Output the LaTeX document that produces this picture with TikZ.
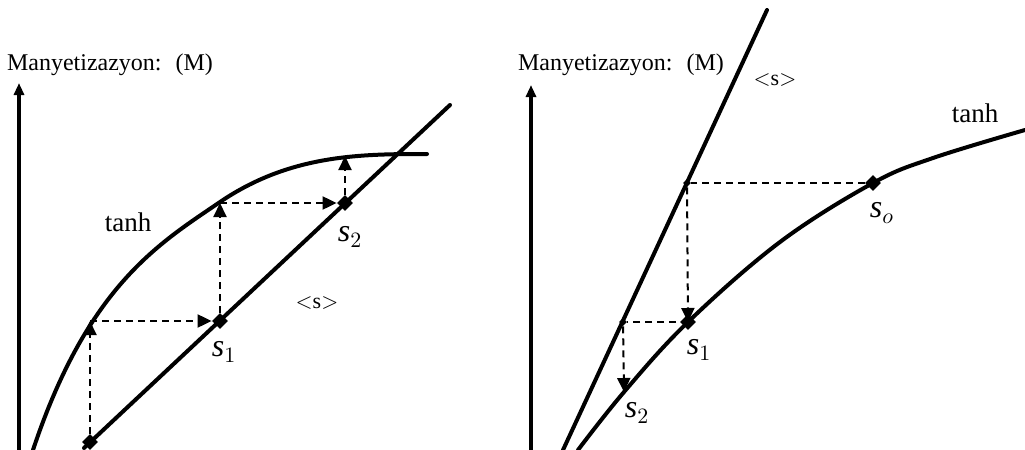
\documentclass[tikz,border=0pt]{standalone}
\usepackage{fontspec}
\setmainfont{Liberation Serif}
\usetikzlibrary{arrows.meta,shapes.geometric}

\begin{document}
\begin{tikzpicture}[x=0.5pt, y=-0.5pt,
    curve/.style={line width=2pt, line cap=round},
    axisline/.style={line width=2pt, -{Triangle[length=6pt, width=5pt]}},
    jump/.style={dashed, dash pattern=on 3.5pt off 2.5pt, line width=1pt},
    jumparrow/.style={jump, -{Triangle[length=7pt, width=6.5pt]}},
    dot/.style={diamond, fill=black, inner sep=0pt, minimum size=8pt},
    tinydot/.style={diamond, fill=black, inner sep=0pt, minimum size=4pt},
    lbl/.style={font=\fontsize{12}{14}\selectfont},
    slbl/.style={font=\fontsize{16}{18}\selectfont}]
    \useasboundingbox (0,0) rectangle (1025,450);

    % Left: iteration converging towards the fixed point
    \draw[axisline] (19,450) -- (19,83);
    \node[lbl] (ylabelL) at (110,65) {Manyetizazyon:~ (M)};

    \draw[curve] (33,450) .. controls (88,285) and (160,243) .. (220,202)
                          .. controls (290,154.5) and (360,154) .. (427,154);
    \draw[curve] (84,448) -- (450,105);

    \node[dot] (p0) at (90,442) {};
    \node[dot] (p1) at (220,321) {};
    \node[dot] (p2) at (345,203) {};
    \coordinate (t0) at (p0 |- p1);
    \coordinate (t1) at (p1 |- p2);
    \coordinate (t2) at (345,156);

    \draw[jumparrow] (p0) -- (t0);
    \draw[jumparrow] (t0) -- (p1);
    \draw[jumparrow] (p1) -- (t1);
    \draw[jumparrow] (t1) -- (p2);
    \draw[jumparrow] (p2) -- (t2);

    \node[font=\fontsize{13.5}{15}\selectfont] (tanhL) at (128,222) {tanh};
    \node[slbl] (s1L) at (224,352) {$\mathit{s}_1$};
    \node[slbl] (s2L) at (350,237) {$\mathit{s}_2$};
    \node[font=\fontsize{11}{12}\selectfont] (meanL) at (317,303) {$<$s$>$};

    % Right: iteration running away from the fixed point
    \draw[axisline] (531,450) -- (531,85);
    \node[lbl] (ylabelR) at (621,65) {Manyetizazyon:~ (M)};

    \draw[curve] (563,450) -- (767,10);
    \draw[curve] plot[smooth, tension=0.6] coordinates {(578,450) (624,392) (688,322) (780,242) (873,183) (933,158) (1025,130)};

    \node[dot] (so) at (873,183) {};
    \node[tinydot] (u1) at (687,183) {};
    \node[tinydot] (u2) at (623,322) {};
    \coordinate (r1) at (688,322);
    \coordinate (r2) at (624,392);
    \node[dot] at (r1) {};

    \draw[jump] (so) -- (u1);
    \draw[jumparrow] (u1) -- (r1);
    \draw[jump] (r1) -- (u2);
    \draw[jumparrow] (u2) -- (r2);

    \node[font=\fontsize{11}{12}\selectfont] (meanR) at (775,80) {$<$s$>$};
    \node[font=\fontsize{13.5}{15}\selectfont] (tanhR) at (975,113) {tanh};
    \node[slbl] (soR) at (882,213) {$\mathit{s}_o$};
    \node[slbl] (s1R) at (699,350) {$\mathit{s}_1$};
    \node[slbl] (s2R) at (637,413) {$\mathit{s}_2$};
\end{tikzpicture}
\end{document}
